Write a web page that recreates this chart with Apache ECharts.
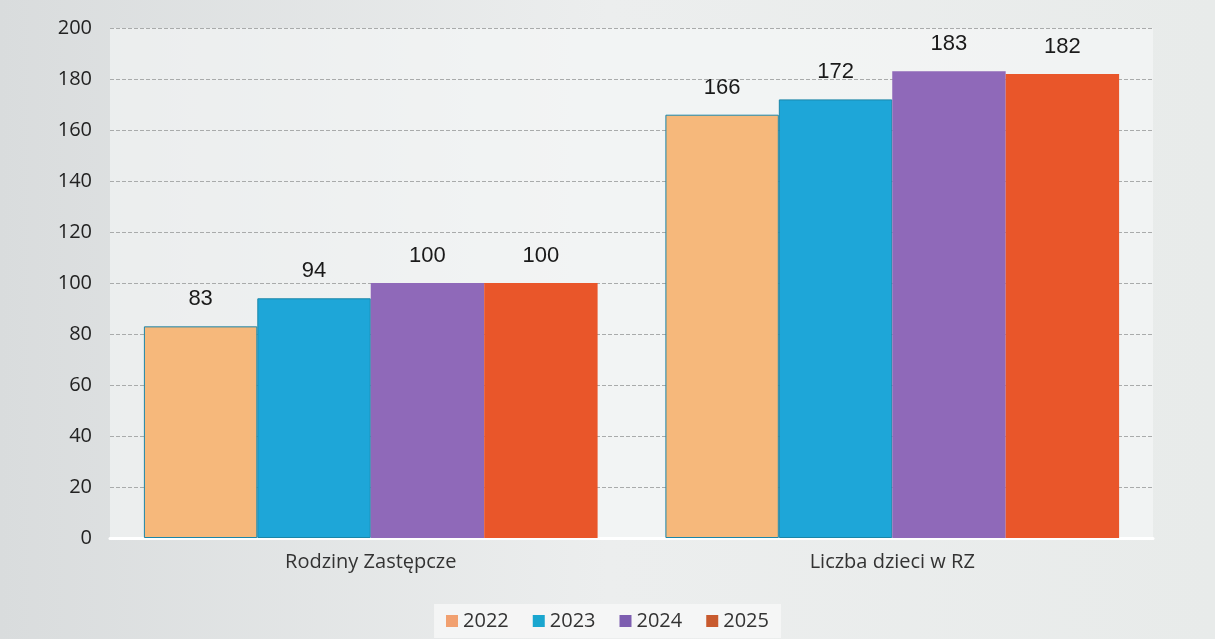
<!DOCTYPE html>
<html>
<head>
<meta charset="utf-8">
<script src="https://cdn.jsdelivr.net/npm/echarts@6/dist/echarts.min.js"></script>
<style>
html,body{margin:0;padding:0;background:#e6e8e8;}
#main{width:1215px;height:639px;}
</style>
</head>
<body>
<div id="main"></div>
<script>
const categories = ['Rodziny Zastępcze', 'Liczba dzieci w RZ'];
const years = ['2022', '2023', '2024', '2025'];
const values2022 = [83, 166];
const values2023 = [94, 172];
const values2024 = [100, 183];
const values2025 = [100, 182];
const yTicks = [0, 20, 40, 60, 80, 100, 120, 140, 160, 180, 200];

const seriesValues = [values2022, values2023, values2024, values2025];
const colors = ['#f6b87b', '#1ea6d8', '#8f69b9', '#e9562a'];
const legendColors = ['#f1a070', '#1aa6cf', '#7d5eb0', '#c85a2e'];

const chart = echarts.init(document.getElementById('main'), null, {renderer: 'canvas'});
const option = {
  backgroundColor: {
    type: 'linear', x: 0, y: 0, x2: 1, y2: 0,
    colorStops: [{offset: 0, color: '#d9dcdd'}, {offset: 0.5, color: '#eceeee'}, {offset: 1, color: '#e8ebea'}]
  },
  animation: false,
  grid: {left: 110, right: 62, top: 28, bottom: 101, backgroundColor: 'rgba(248,249,249,0.55)', show: true, borderWidth: 0},
  legend: {
    bottom: 1, left: 'center',
    icon: 'rect',
    itemWidth: 12, itemHeight: 12, itemGap: 24,
    padding: [7, 12],
    backgroundColor: 'rgba(250,250,250,0.7)',
    textStyle: {fontFamily: 'Open Sans', fontSize: 20, color: '#333'},
    data: years.map((y, i) => ({name: y, itemStyle: {color: legendColors[i], borderWidth: 0}}))
  },
  xAxis: {
    type: 'category', data: categories,
    axisLine: {show: true, lineStyle: {color: '#ffffff', width: 3}},
    axisTick: {show: false},
    axisLabel: {fontFamily: 'Open Sans', fontSize: 20, color: '#333', margin: 14}
  },
  yAxis: {
    type: 'value', min: 0, max: 200, interval: 20,
    axisLine: {show: false}, axisTick: {show: false},
    axisLabel: {fontFamily: 'Open Sans', fontSize: 20, color: '#222', margin: 18,
      formatter: v => yTicks.includes(v) ? String(v) : ''},
    splitLine: {lineStyle: {color: '#a9abab', type: 'dashed', width: 1}}
  },
  series: years.map((y, i) => ({
    name: y, type: 'bar', data: seriesValues[i],
    barGap: '0%', barCategoryGap: '13%',
    itemStyle: {color: colors[i], borderColor: i < 2 ? '#1b86a8' : colors[i], borderWidth: i < 2 ? 1 : 0},
    label: {show: true, position: 'top', distance: 16, fontFamily: 'Liberation Sans', fontSize: 22, color: '#1a1a1a'}
  }))
};
chart.setOption(option);
</script>
</body>
</html>
